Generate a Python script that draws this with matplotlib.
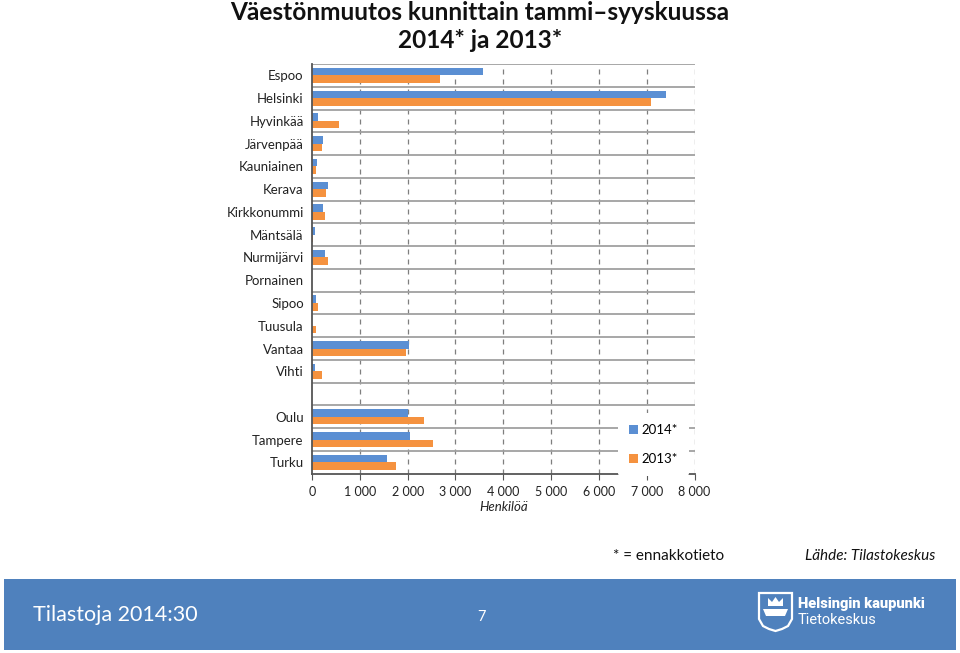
import matplotlib
matplotlib.use("Agg")
import matplotlib.pyplot as plt
import numpy as np
from matplotlib.patches import Rectangle, Polygon

plt.rcParams['font.family'] = ['Lato', 'DejaVu Sans']

categories = ["Espoo", "Helsinki", "Hyvinkää", "Järvenpää", "Kauniainen", "Kerava",
              "Kirkkonummi", "Mäntsälä", "Nurmijärvi", "Pornainen", "Sipoo", "Tuusula",
              "Vantaa", "Vihti", "", "Oulu", "Tampere", "Turku"]
values_2014 = [3580, 7410, 130, 235, 110, 335, 235, 70, 270, 5, 90, 5, 2020, 70,
               np.nan, 2010, 2045, 1575]
values_2013 = [2670, 7100, 560, 210, 90, 295, 275, 20, 335, 10, 135, 90, 1960, 210,
               np.nan, 2345, 2525, 1755]
series_names = ["2014*", "2013*"]
xticks = [0, 1000, 2000, 3000, 4000, 5000, 6000, 7000, 8000]
xtick_labels = ["0", "1 000", "2 000", "3 000", "4 000", "5 000", "6 000", "7 000", "8 000"]

W, H = 960, 653
fig = plt.figure(figsize=(W / 100, H / 100), dpi=100)

def fx(px):
    return px / W

def fy(py):
    return 1 - py / H

left, right, top, bottom = 312, 694.5, 64, 473.7
ax = fig.add_axes([fx(left), fy(bottom), fx(right - left), (bottom - top) / H])

blue = "#5B8FD3"
orange = "#F5923F"
n = len(categories)
y = np.arange(n)
bh = 1 / 3
ax.barh(y - bh / 2, values_2014, height=bh, color=blue, label=series_names[0], zorder=3)
ax.barh(y + bh / 2, values_2013, height=bh, color=orange, label=series_names[1], zorder=3)

ax.set_ylim(n - 0.5, -0.5)
ax.set_xlim(0, 8000)
ax.set_yticks(y)
ax.set_yticklabels(categories, fontsize=9.5, color="#222222")
ax.tick_params(axis="y", length=0, pad=6)
ax.set_xticks(xticks)
ax.set_xticklabels(xtick_labels, fontsize=9, color="#222222")
ax.tick_params(axis="x", direction="out", length=4, color="#555555", pad=5)

# grid
for xv in xticks[1:]:
    ax.axvline(xv, color="#7f7f7f", lw=0.9, ls=(0, (4, 4)), zorder=1)
for b in np.arange(-0.5, n - 0.5, 1.0):
    ax.axhline(b, color="#a0a0a0", lw=1.3, zorder=2)

for s in ["top", "right"]:
    ax.spines[s].set_visible(False)
ax.spines["left"].set_color("#555555")
ax.spines["left"].set_linewidth(1.3)
ax.spines["left"].set_zorder(4)
ax.spines["bottom"].set_color("#555555")
ax.spines["bottom"].set_linewidth(1.3)

ax.set_xlabel("Henkilöä", fontsize=9.5, style="italic", labelpad=2, color="#222222")

leg = ax.legend(loc="lower right", bbox_to_anchor=(0.985, -0.005), frameon=True,
                fontsize=9.5, handlelength=0.7, handleheight=0.7, handletextpad=0.3,
                labelspacing=1.3, borderpad=0.8, borderaxespad=0.0)
leg.get_frame().set_facecolor("white")
leg.get_frame().set_edgecolor("none")
leg.get_frame().set_alpha(1)
leg.set_zorder(5)

# title
fig.text(0.5, fy(13), "Väestönmuutos kunnittain tammi–syyskuussa", ha="center", va="center",
         fontsize=17.6, fontweight="bold", color="#111111")
fig.text(0.5, fy(40), "2014* ja 2013*", ha="center", va="center",
         fontsize=17.6, fontweight="bold", color="#111111")

# footnotes
fig.text(fx(669), fy(556), "* = ennakkotieto", ha="center", va="center", fontsize=11, color="#111111")
fig.text(fx(870), fy(556), "Lähde: Tilastokeskus", ha="center", va="center", fontsize=11,
         style="italic", color="#111111")

# footer band
band = Rectangle((fx(4), fy(650)), fx(952), (650 - 579) / H, transform=fig.transFigure,
                 facecolor="#4F81BD", edgecolor="none")
fig.patches.append(band)
fig.text(fx(33), fy(615), "Tilastoja 2014:30", ha="left", va="center", fontsize=15.5,
         color="white")
fig.text(fx(482), fy(617), "7", ha="center", va="center", fontsize=10.5, color="white")

# logo: shield outline
sx0, sx1, sy0, sy1 = 759, 792, 593, 631
shield_pts = [(sx0, sy0), (sx1, sy0), (sx1, sy1 - 12), (sx1 - 4, sy1 - 5), (sx1 - 10, sy1 - 2),
              ((sx0 + sx1) / 2, sy1), (sx0 + 10, sy1 - 2), (sx0 + 4, sy1 - 5), (sx0, sy1 - 12)]
shield = Polygon([(fx(a), fy(b)) for a, b in shield_pts], closed=True, transform=fig.transFigure,
                 facecolor="none", edgecolor="white", lw=1.6)
fig.patches.append(shield)
boat = [(sx0 + 4, 609), (sx1 - 4, 609), (sx1 - 7, 616), (sx0 + 7, 616)]
fig.patches.append(Polygon([(fx(a), fy(b)) for a, b in boat], closed=True,
                           transform=fig.transFigure, facecolor="white", edgecolor="none"))
crown = [(sx0 + 9, 606), (sx0 + 9, 598), (sx0 + 13, 602), (sx0 + 16.5, 597), (sx0 + 20, 602),
         (sx0 + 24, 598), (sx0 + 24, 606)]
fig.patches.append(Polygon([(fx(a), fy(b)) for a, b in crown], closed=True,
                           transform=fig.transFigure, facecolor="white", edgecolor="none"))
fig.text(fx(798), fy(604), "Helsingin kaupunki", ha="left", va="center", fontsize=10.5,
         fontweight="black", color="white", family=["Roboto", "DejaVu Sans"])
fig.text(fx(798), fy(620), "Tietokeskus", ha="left", va="center", fontsize=10.5,
         color="white", family=["Roboto", "DejaVu Sans"])

fig.savefig("out.png", dpi=100)
